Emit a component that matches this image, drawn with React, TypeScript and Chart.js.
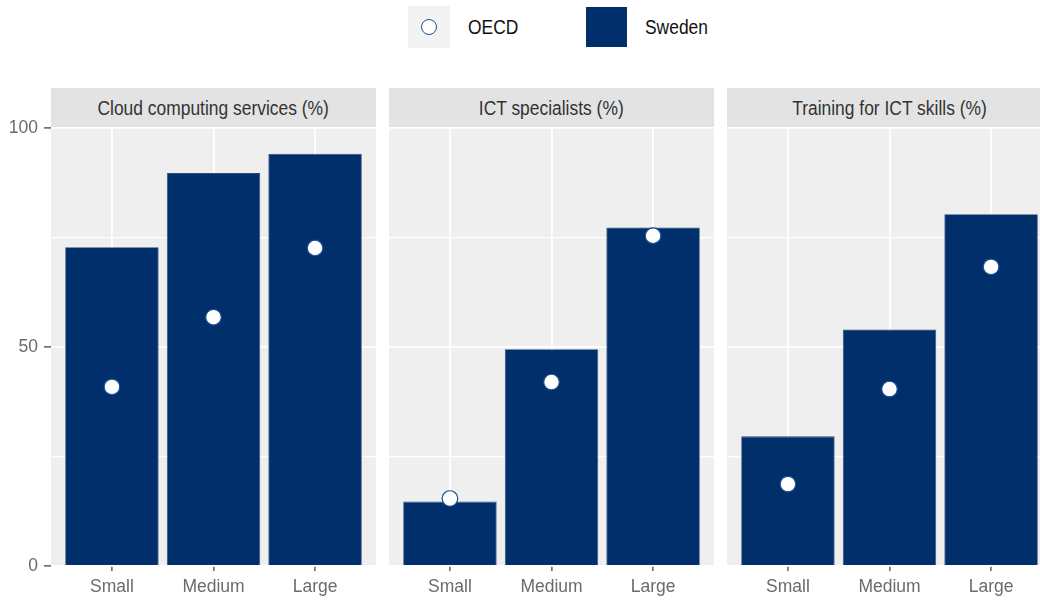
import React, { useEffect, useRef } from 'react';
import { Chart, registerables } from 'chart.js';

Chart.register(...registerables);

// ---------- data ----------
const sizeLabels = ['Small', 'Medium', 'Large'];
const panelTitles = ['Cloud computing services (%)', 'ICT specialists (%)', 'Training for ICT skills (%)'];
const swedenCloud = [72.8, 89.7, 94.1];
const oecdCloud = [40.9, 56.8, 72.6];
const swedenIct = [14.7, 49.5, 77.3];
const oecdIct = [15.4, 42.0, 75.4];
const swedenTraining = [29.6, 54.0, 80.3];
const oecdTraining = [18.7, 40.4, 68.3];
const yMajorTicks = [0, 50, 100];
const legendLabels = ['OECD', 'Sweden'];

// ---------- style ----------
const FONT = '"Liberation Sans", Arial, sans-serif';
const BAR_COLOR = '#002f6b';
const DOT_BORDER = '#1c4f8f';
const PANEL_BG = '#efefef';
const STRIP_BG = '#e3e3e3';
const NARROW = 0.85;

const panelBgPlugin = {
  id: 'panelBg',
  beforeDraw(chart: any) {
    const { ctx, chartArea } = chart;
    ctx.save();
    ctx.fillStyle = PANEL_BG;
    ctx.fillRect(chartArea.left, chartArea.top, chartArea.right - chartArea.left, chartArea.bottom - chartArea.top);
    ctx.restore();
  },
};

type PanelProps = {
  sweden: number[];
  oecd: number[];
  canvasLeft: number;
  canvasWidth: number;
  yAxisWidth: number;
  showY: boolean;
};

const CANVAS_TOP = 110;
const CANVAS_HEIGHT = 490;

function Panel({ sweden, oecd, canvasLeft, canvasWidth, yAxisWidth, showY }: PanelProps) {
  const ref = useRef<HTMLCanvasElement | null>(null);
  useEffect(() => {
    if (!ref.current) return;
    const chart = new Chart(ref.current, {
      type: 'bar',
      data: {
        datasets: [
          {
            type: 'scatter',
            label: legendLabels[0],
            data: oecd.map((v, i) => ({ x: i + 1, y: v })),
            pointRadius: 7.8,
            pointHoverRadius: 7.8,
            pointBackgroundColor: '#ffffff',
            pointBorderColor: DOT_BORDER,
            pointBorderWidth: 1.2,
            order: 0,
          } as any,
          {
            type: 'bar',
            label: legendLabels[1],
            data: sweden.map((v, i) => ({ x: i + 1, y: v })),
            backgroundColor: BAR_COLOR,
            borderColor: '#2b4d7e',
            borderWidth: 0.8,
            barPercentage: 0.92,
            categoryPercentage: 1,
            order: 1,
          } as any,
        ],
      },
      options: {
        animation: false,
        responsive: false,
        maintainAspectRatio: false,
        devicePixelRatio: 1,
        layout: { autoPadding: false, padding: { top: 18, left: 0, right: 0, bottom: 0 } },
        plugins: { legend: { display: false }, tooltip: { enabled: false } },
        scales: {
          x: {
            type: 'linear',
            min: 0.4,
            max: 3.6,
            offset: false,
            afterBuildTicks: (axis: any) => {
              axis.ticks = sizeLabels.map((_, i) => ({ value: i + 1 }));
            },
            afterFit: (axis: any) => {
              axis.height = 34;
            },
            ticks: {
              autoSkip: false,
              maxRotation: 0,
              padding: 6,
              color: '#6b6b6b',
              font: { family: FONT, size: 17.5 },
              callback: (v: any) => sizeLabels[Math.round(Number(v)) - 1] ?? '',
            },
            grid: {
              offset: false,
              color: '#ffffff',
              lineWidth: 1.8,
              drawTicks: true,
              tickLength: 5,
              tickColor: '#444444',
              tickWidth: 1.3,
            },
            border: { display: false },
          },
          y: {
            type: 'linear',
            min: 0,
            max: 100,
            afterFit: (axis: any) => {
              axis.width = yAxisWidth;
            },
            ticks: {
              display: showY,
              stepSize: 25,
              padding: 6,
              color: '#6b6b6b',
              font: { family: FONT, size: 17.5 },
              callback: (v: any) => (yMajorTicks.includes(Number(v)) ? String(v) : ''),
            },
            grid: {
              color: '#ffffff',
              lineWidth: (c: any) => (yMajorTicks.includes(c.tick?.value) ? 1.8 : 1.3),
              drawTicks: showY,
              tickLength: 7,
              tickWidth: 1.3,
              tickColor: (c: any) => (yMajorTicks.includes(c.tick?.value) ? '#444444' : 'rgba(0,0,0,0)'),
            },
            border: { display: false },
          },
        },
      } as any,
      plugins: [panelBgPlugin],
    });
    return () => chart.destroy();
  }, []);
  return (
    <canvas
      ref={ref}
      width={canvasWidth}
      height={CANVAS_HEIGHT}
      style={{ position: 'absolute', left: canvasLeft, top: CANVAS_TOP, width: canvasWidth, height: CANVAS_HEIGHT }}
    />
  );
}

const panelLefts = [51, 389, 727];
const PANEL_W = 325;

const narrowSpan = (text: string, origin: string) => (
  <span style={{ display: 'inline-block', transform: `scaleX(${NARROW})`, transformOrigin: origin }}>{text}</span>
);

export default function App() {
  const series = [
    [swedenCloud, oecdCloud],
    [swedenIct, oecdIct],
    [swedenTraining, oecdTraining],
  ];
  const textStyle: React.CSSProperties = { fontFamily: FONT, fontSize: 20.5 };
  return (
    <div
      style={{
        position: 'absolute',
        left: 0,
        top: 0,
        width: 1040,
        height: 600,
        overflow: 'hidden',
        background: '#ffffff',
      }}
    >
      {/* legend */}
      <div style={{ position: 'absolute', left: 408, top: 6, width: 42, height: 42, background: '#f3f3f3' }}>
        <div
          style={{
            position: 'absolute',
            left: 12.5,
            top: 12.5,
            width: 14,
            height: 14,
            borderRadius: '50%',
            border: `1.5px solid ${DOT_BORDER}`,
            background: '#ffffff',
          }}
        />
      </div>
      <div style={{ ...textStyle, position: 'absolute', left: 468, top: 6, height: 42, lineHeight: '42px', color: '#111', whiteSpace: 'nowrap' }}>
        {narrowSpan(legendLabels[0], 'left center')}
      </div>
      <div style={{ position: 'absolute', left: 586, top: 7, width: 41, height: 40, background: BAR_COLOR }} />
      <div style={{ ...textStyle, position: 'absolute', left: 645, top: 6, height: 42, lineHeight: '42px', color: '#111', whiteSpace: 'nowrap' }}>
        {narrowSpan(legendLabels[1], 'left center')}
      </div>

      {/* strips */}
      {panelTitles.map((t, i) => (
        <div
          key={t}
          style={{
            ...textStyle,
            position: 'absolute',
            left: panelLefts[i],
            top: 88,
            width: PANEL_W,
            height: 40,
            lineHeight: '40px',
            background: STRIP_BG,
            color: '#333333',
            textAlign: 'center',
            whiteSpace: 'nowrap',
          }}
        >
          {narrowSpan(t, 'center center')}
        </div>
      ))}

      {/* panels */}
      {series.map(([sw, oe], i) => (
        <Panel
          key={i}
          sweden={sw}
          oecd={oe}
          canvasLeft={i === 0 ? 0 : panelLefts[i]}
          canvasWidth={i === 0 ? panelLefts[0] + PANEL_W : PANEL_W}
          yAxisWidth={i === 0 ? panelLefts[0] : 0}
          showY={i === 0}
        />
      ))}
    </div>
  );
}
